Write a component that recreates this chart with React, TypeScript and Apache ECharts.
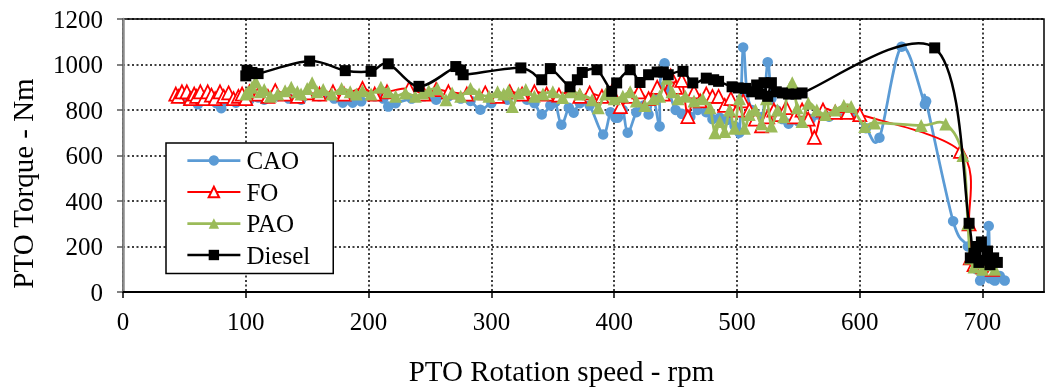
import React, { useEffect, useRef } from 'react';
import * as echarts from 'echarts';

const xTicks = [0, 100, 200, 300, 400, 500, 600, 700];
const yTicks = [0, 200, 400, 600, 800, 1000, 1200];

const cao: number[][] = [
  [48, 850], [52, 840], [56, 860], [61, 825], [66, 850], [72, 845], [76, 830], [80, 808], [85, 840], [92, 832],
  [97, 850], [103, 845], [110, 855], [115, 845], [125, 860], [135, 850], [145, 845], [160, 860], [172, 850], [179, 832],
  [187, 832], [194, 838], [205, 860], [212, 850], [216, 815], [222, 830], [235, 850], [245, 860], [255, 845], [265, 860],
  [275, 850], [283, 840], [291, 801], [300, 830], [313, 845], [322, 860], [329, 845], [335, 830], [341, 780], [348, 820],
  [352, 835], [357, 735], [363, 810], [367, 788], [372, 830], [380, 820], [391, 692], [397, 790], [401, 766], [403, 766],
  [407, 800], [411, 700], [418, 790], [424, 820], [428, 780], [432, 850], [437, 728], [437, 900], [441, 1005], [445, 880],
  [450, 800], [455, 783], [462, 770], [468, 800], [475, 790], [480, 760], [486, 766], [492, 756], [498, 730], [502, 700],
  [505, 1075], [508, 880], [512, 800], [516, 760], [521, 770], [525, 1010], [528, 850], [532, 800], [537, 760], [542, 740],
  [550, 750], [560, 760], [575, 770], [593, 780], [605, 720], [616, 678], [634, 1078], [653, 825], [654, 838], [676, 311],
  [688, 200], [695, 100], [698, 50], [702, 80], [705, 290], [706, 60], [710, 50], [714, 70], [718, 50],
];

const fo: number[][] = [
  [43, 870], [45, 860], [48, 880], [52, 880], [55, 850], [58, 870], [60, 860], [63, 880], [66, 850], [69, 880],
  [72, 865], [75, 850], [79, 880], [82, 860], [86, 875], [90, 850], [94, 860], [97, 870], [100, 850], [103, 880],
  [110, 870], [118, 860], [124, 885], [132, 870], [142, 860], [150, 875], [160, 870], [171, 880], [180, 870], [195, 895],
  [205, 870], [215, 880], [233, 895], [245, 870], [255, 890], [265, 880], [280, 870], [295, 875], [305, 860], [315, 880],
  [325, 870], [335, 880], [345, 870], [355, 865], [365, 885], [372, 860], [380, 875], [390, 860], [398, 880], [405, 815],
  [412, 860], [420, 880], [428, 850], [435, 900], [440, 870], [446, 950], [450, 900], [455, 930], [460, 771], [465, 880],
  [470, 840], [475, 870], [480, 860], [485, 860], [490, 820], [495, 850], [500, 800], [505, 840], [510, 800], [515, 760],
  [520, 730], [525, 770], [530, 800], [535, 780], [540, 810], [547, 770], [553, 800], [558, 760], [563, 680], [570, 800],
  [580, 790], [590, 790], [600, 780], [682, 618], [689, 300], [690, 150], [693, 120], [697, 140], [700, 110], [705, 130],
  [708, 100],
];

const pao: number[][] = [
  [100, 870], [102, 880], [105, 900], [108, 925], [112, 880], [115, 890], [120, 860], [126, 870], [132, 885], [137, 900],
  [142, 880], [145, 870], [150, 895], [154, 920], [158, 880], [163, 890], [170, 870], [178, 895], [185, 880], [190, 870],
  [195, 885], [202, 870], [210, 900], [216, 880], [222, 860], [230, 875], [238, 860], [244, 875], [249, 885], [256, 895],
  [263, 845], [268, 875], [275, 860], [283, 895], [290, 870], [298, 860], [305, 880], [310, 870], [314, 885], [317, 815],
  [322, 875], [328, 890], [335, 860], [342, 870], [350, 880], [358, 855], [365, 880], [372, 870], [382, 845], [387, 810],
  [393, 870], [400, 850], [407, 860], [413, 880], [418, 840], [425, 820], [432, 850], [437, 860], [443, 940], [447, 880],
  [452, 850], [458, 860], [465, 840], [472, 850], [478, 810], [482, 700], [486, 750], [490, 705], [494, 800], [498, 720],
  [502, 850], [506, 720], [510, 780], [515, 800], [520, 740], [524, 850], [528, 730], [533, 800], [538, 770], [541, 880],
  [545, 920], [549, 810], [553, 750], [558, 830], [565, 800], [572, 780], [580, 800], [587, 820], [593, 815], [604, 728],
  [612, 743], [650, 732], [670, 738], [684, 600], [688, 300], [690, 150], [693, 110], [697, 130], [700, 100], [705, 120],
  [710, 100],
];

const diesel: number[][] = [
  [100, 950], [101, 975], [103, 960], [105, 965], [110, 960], [152, 1015], [181, 973], [202, 970], [216, 1003], [241, 904],
  [271, 991], [275, 976], [277, 955], [324, 985], [341, 933], [348, 982], [364, 902], [370, 933], [374, 965], [386, 977],
  [398, 882], [402, 919], [413, 977], [421, 921], [428, 955], [435, 967], [440, 967], [444, 955], [456, 970], [464, 919],
  [475, 940], [481, 933], [485, 926], [496, 902], [501, 897], [507, 895], [512, 880], [516, 910], [519, 870], [522, 920],
  [525, 860], [528, 920], [532, 880], [537, 875], [542, 870], [548, 870], [553, 875], [661, 1073], [689, 302], [690, 150],
  [693, 170], [695, 200], [697, 130], [699, 220], [701, 140], [704, 180], [706, 120], [709, 150], [712, 130],
];

const FONT = 'Liberation Serif';

type Style = { name: string; data: number[][]; color: string; width: number; symbol: string; size: number; hollow?: boolean };
const styles: Style[] = [
  { name: 'CAO', data: cao, color: '#5B9BD5', width: 2.75, symbol: 'circle', size: 10.5 },
  { name: 'FO', data: fo, color: '#FF0000', width: 2, symbol: 'triangle', size: 13, hollow: true },
  { name: 'PAO', data: pao, color: '#9BBB59', width: 2.75, symbol: 'triangle', size: 13 },
  { name: 'Diesel', data: diesel, color: '#000000', width: 2.5, symbol: 'rect', size: 11 },
];

// Excel-like smoothed line (Catmull-Rom to cubic Bezier) drawn segment by segment through the axis scales.
function smoothLine(s: Style, z: number) {
  const pts = s.data;
  return {
    type: 'custom',
    name: s.name + '-line',
    data: pts,
    encode: { x: 0, y: 1 },
    z,
    silent: true,
    clip: true,
    renderItem: (params: any, api: any) => {
      const i = params.dataIndex;
      if (i >= pts.length - 1) return null;
      const at = (k: number) => api.coord(pts[Math.max(0, Math.min(pts.length - 1, k))]);
      const p0 = at(i - 1), p1 = at(i), p2 = at(i + 1), p3 = at(i + 2);
      return {
        type: 'bezierCurve',
        shape: {
          x1: p1[0], y1: p1[1], x2: p2[0], y2: p2[1],
          cpx1: p1[0] + (p2[0] - p0[0]) / 6, cpy1: p1[1] + (p2[1] - p0[1]) / 6,
          cpx2: p2[0] - (p3[0] - p1[0]) / 6, cpy2: p2[1] - (p3[1] - p1[1]) / 6,
        },
        style: { stroke: s.color, lineWidth: s.width, fill: 'none', lineCap: 'round', lineJoin: 'round' },
      };
    },
  };
}

function markers(s: Style, z: number) {
  return {
    type: 'line',
    name: s.name,
    data: s.data,
    z,
    symbol: s.symbol,
    symbolSize: s.size,
    showSymbol: true,
    lineStyle: { color: s.color, width: s.width, opacity: 0 },
    itemStyle: s.hollow
      ? { color: '#ffffff', borderColor: s.color, borderWidth: 1.75 }
      : { color: s.color },
  };
}

export default function App() {
  const ref = useRef<HTMLDivElement>(null);
  useEffect(() => {
    const chart = echarts.init(ref.current!, null, { renderer: 'svg' });
    const dotted = { type: [2, 2.5] as any, color: '#000', width: 1.5 };
    const series: any[] = [];
    styles.forEach((s, k) => {
      series.push(smoothLine(s, 2 + 2 * k));
      series.push(markers(s, 3 + 2 * k));
    });
    chart.setOption({
      animation: false,
      textStyle: { fontFamily: FONT },
      grid: {
        left: 122, top: 19, right: 8, bottom: 97,
        show: true, borderColor: '#000', borderWidth: 1.5,
      },
      legend: {
        data: styles.map((s) => ({
          name: s.name,
          lineStyle: { color: s.color, width: s.width, opacity: 1 },
        })),
        orient: 'vertical',
        left: 166, top: 143,
        padding: [5, 23, 6, 20],
        itemWidth: 53, itemHeight: 13, itemGap: 6.5,
        borderColor: '#000', borderWidth: 1.5, backgroundColor: '#fff',
        textStyle: { fontFamily: FONT, fontSize: 25, color: '#000', padding: [0, 0, 0, 1] },
      },
      xAxis: {
        type: 'value', min: 0, max: 750, interval: 100,
        name: 'PTO Rotation speed - rpm', nameLocation: 'middle', nameGap: 64,
        nameTextStyle: { fontFamily: FONT, fontSize: 29, color: '#000', padding: [0, 44, 0, 0] },
        axisLine: { show: true, lineStyle: { color: '#000', width: 2 } },
        axisTick: { show: true, length: 6, lineStyle: { color: '#000', width: 1.5 }, customValues: xTicks },
        axisLabel: { fontFamily: FONT, fontSize: 25, color: '#000', margin: 17, customValues: xTicks },
        splitLine: { show: true, lineStyle: dotted },
      },
      yAxis: {
        type: 'value', min: 0, max: 1200, interval: 200,
        name: 'PTO Torque - Nm', nameLocation: 'middle', nameGap: 86,
        nameTextStyle: { fontFamily: FONT, fontSize: 29, color: '#000', padding: [0, 56, 0, 0] },
        axisLine: { show: true, lineStyle: { color: '#8c8c8c', width: 2.5 } },
        axisTick: { show: true, length: 6, lineStyle: { color: '#595959', width: 1.5 }, customValues: yTicks },
        axisLabel: {
          fontFamily: FONT, fontSize: 25, color: '#000', margin: 20, customValues: yTicks,
          formatter: (v: number) => String(v),
        },
        splitLine: { show: true, lineStyle: dotted },
      },
      series,
    });
    return () => chart.dispose();
  }, []);
  return <div ref={ref} style={{ position: 'fixed', left: 0, top: 0, width: 1052, height: 390 }} />;
}
